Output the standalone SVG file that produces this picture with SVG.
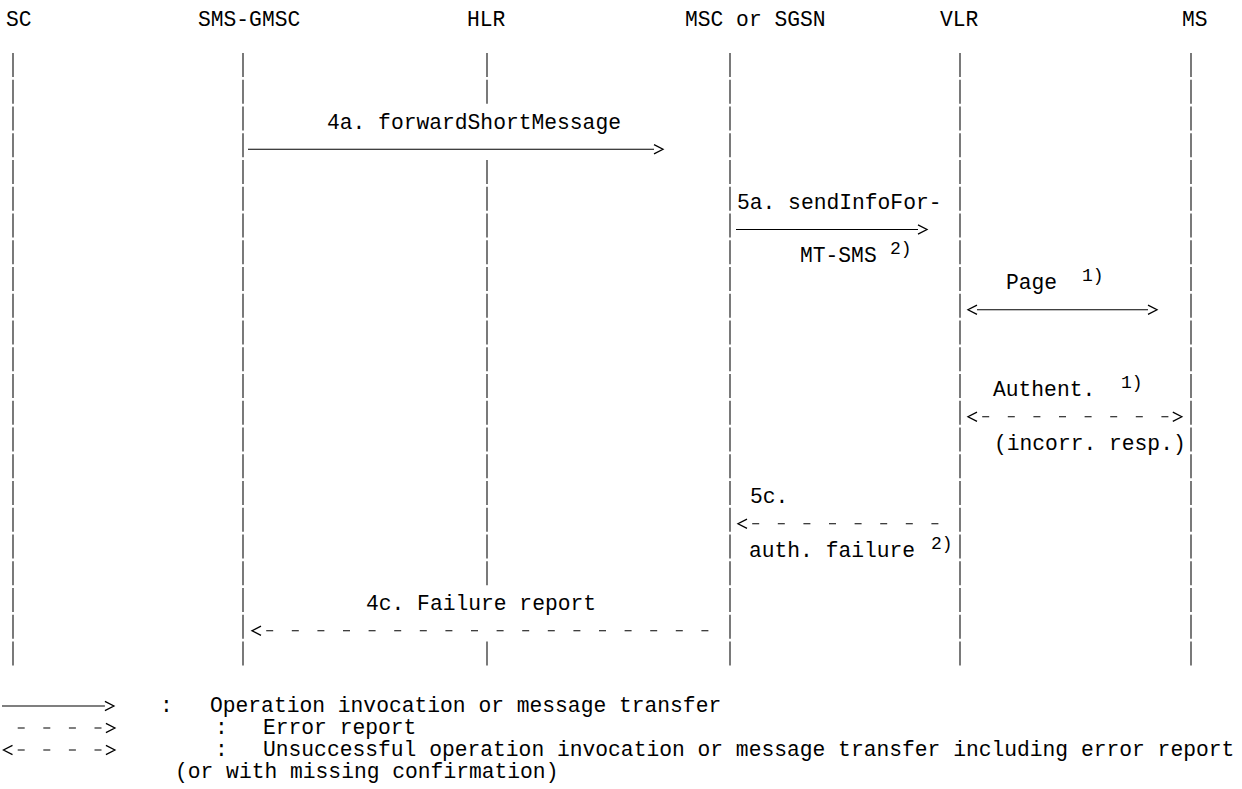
<svg xmlns="http://www.w3.org/2000/svg" width="1242" height="789" viewBox="0 0 1242 789">
<style>
text{font-family:"Liberation Mono","Courier New",monospace;font-size:21.3px;fill:#000}
text.sup{font-size:18px}
.life{stroke:#333;stroke-width:1.3;stroke-dasharray:24 2.75;fill:none}
.solid{stroke:#000;stroke-width:1.2;fill:none}
.dash{stroke:#000;stroke-width:1.2;fill:none;stroke-dasharray:7 18.6}
</style>
<defs>
<marker id="chev" markerUnits="userSpaceOnUse" markerWidth="14" markerHeight="14" viewBox="-2 -7 14 14" refX="0" refY="0" orient="auto-start-reverse" overflow="visible">
<path d="M0,-4.6 L9,0 L0,4.6" fill="none" stroke="#000" stroke-width="1.3" stroke-dasharray="none"/>
</marker>
</defs>
<rect width="1242" height="789" fill="#fff"/>
<g id="node-sc">
<text x="6" y="26">SC</text>
<line class="life" x1="13" y1="53" x2="13" y2="665.5"/>
</g>
<g id="node-smsgmsc">
<text x="198" y="26">SMS-GMSC</text>
<line class="life" x1="243" y1="53" x2="243" y2="665.5"/>
</g>
<g id="node-hlr">
<text x="467" y="26">HLR</text>
<line class="life" x1="487" y1="53" x2="487" y2="103.75"/>
<line class="life" x1="487" y1="160" x2="487" y2="585.25"/>
<line class="life" x1="487" y1="641.5" x2="487" y2="665.5"/>
</g>
<g id="node-msc">
<text x="685" y="26">MSC or SGSN</text>
<line class="life" x1="730" y1="53" x2="730" y2="665.5"/>
</g>
<g id="node-vlr">
<text x="940" y="26">VLR</text>
<line class="life" x1="960" y1="53" x2="960" y2="665.5"/>
</g>
<g id="node-ms">
<text x="1182" y="26">MS</text>
<line class="life" x1="1191" y1="53" x2="1191" y2="665.5"/>
</g>
<g id="connectors">
<line class="solid" x1="248" y1="149.25" x2="654" y2="149.25" marker-end="url(#chev)"/>
<line class="solid" x1="736" y1="229.5" x2="918" y2="229.5" marker-end="url(#chev)"/>
<line class="solid" x1="977" y1="309.75" x2="1148" y2="309.75" marker-start="url(#chev)" marker-end="url(#chev)"/>
<line class="dash" x1="977" y1="416.75" x2="1172.8" y2="416.75" stroke-dashoffset="-5.2" marker-start="url(#chev)" marker-end="url(#chev)"/>
<line class="dash" x1="747" y1="523.75" x2="938.4" y2="523.75" stroke-dashoffset="-5.2" marker-start="url(#chev)"/>
<line class="dash" x1="261" y1="630.75" x2="708.4" y2="630.75" stroke-dashoffset="-5.2" marker-start="url(#chev)"/>
</g>
<g id="labels">
<text x="327" y="128.5">4a. forwardShortMessage</text>
<text x="737" y="208.75">5a. sendInfoFor-</text>
<text x="800" y="262.25">MT-SMS</text>
<text class="sup" x="890" y="254">2)</text>
<text x="1006" y="289">Page</text>
<text class="sup" x="1082" y="281">1)</text>
<text x="993" y="396">Authent.</text>
<text class="sup" x="1121" y="388">1)</text>
<text x="994" y="449.5">(incorr. resp.)</text>
<text x="750" y="503">5c.</text>
<text x="749" y="556.5">auth. failure</text>
<text class="sup" x="931" y="548.5">2)</text>
<text x="366" y="610">4c. Failure report</text>
</g>
<g id="legend">
<line class="solid" x1="2" y1="706" x2="104.9" y2="706" marker-end="url(#chev)"/>
<text x="160" y="712">:</text>
<text x="210" y="712">Operation invocation or message transfer</text>
<line class="dash" x1="17.7" y1="728" x2="105.9" y2="728" marker-end="url(#chev)"/>
<text x="215" y="734">:</text>
<text x="263" y="734">Error report</text>
<line class="dash" x1="12.5" y1="750" x2="105.9" y2="750" stroke-dashoffset="-5.2" marker-start="url(#chev)" marker-end="url(#chev)"/>
<text x="215" y="756">:</text>
<text x="263" y="756">Unsuccessful operation invocation or message transfer including error report</text>
<text x="175" y="778">(or with missing confirmation)</text>
</g>
</svg>
